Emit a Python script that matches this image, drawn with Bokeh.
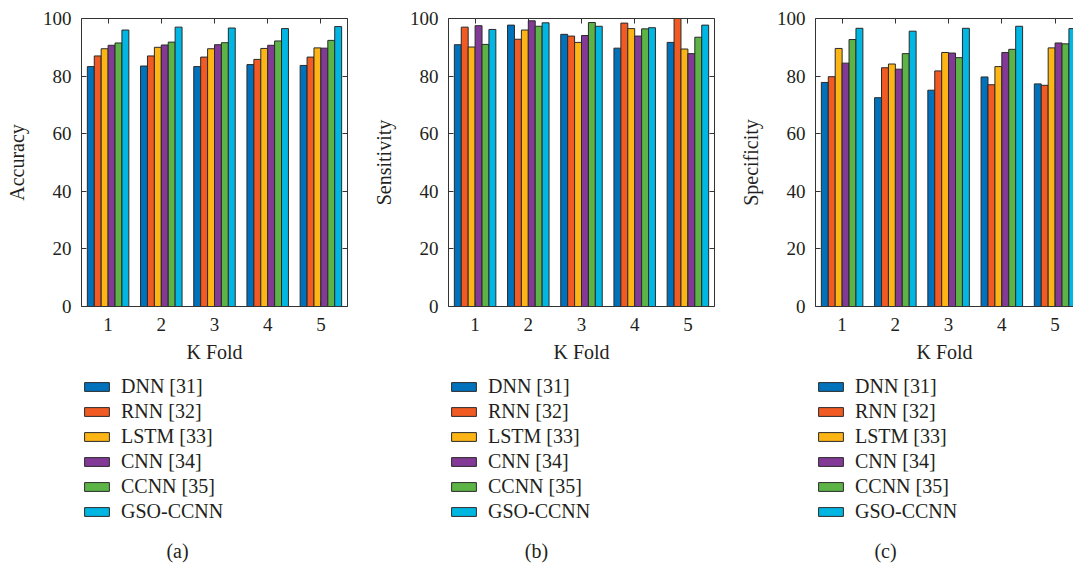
from bokeh.plotting import figure
from bokeh.models import (ColumnDataSource, FixedTicker, LinearAxis, Range1d,
                          Legend, LegendItem, Label)
from bokeh.transform import dodge
from bokeh.layouts import row, column
from bokeh.embed import file_html
from bokeh.resources import INLINE

# ---------------- data ----------------
folds = [1, 2, 3, 4, 5]
fold_labels = ["1", "2", "3", "4", "5"]
models = ["DNN [31]", "RNN [32]", "LSTM [33]", "CNN [34]", "CCNN [35]", "GSO-CCNN"]
y_ticks = [0, 20, 40, 60, 80, 100]

# rows: models (DNN, RNN, LSTM, CNN, CCNN, GSO-CCNN); columns: folds 1..5
accuracy = [
    [83.3, 83.5, 83.3, 84.0, 83.7],
    [87.0, 87.0, 86.6, 85.8, 86.6],
    [89.5, 90.0, 89.5, 89.6, 89.8],
    [90.7, 90.8, 90.9, 90.7, 89.7],
    [91.5, 91.8, 91.6, 92.2, 92.4],
    [96.0, 97.0, 96.7, 96.5, 97.2],
]
sensitivity = [
    [90.9, 97.7, 94.5, 89.7, 91.7],
    [97.0, 92.8, 93.9, 98.4, 100.0],
    [90.1, 96.0, 91.7, 96.5, 89.4],
    [97.5, 99.2, 94.1, 93.9, 87.8],
    [91.0, 97.3, 98.6, 96.4, 93.5],
    [96.2, 98.5, 97.3, 96.8, 97.7],
]
specificity = [
    [77.8, 72.5, 75.1, 79.7, 77.3],
    [79.8, 82.9, 81.8, 77.0, 76.8],
    [89.6, 84.2, 88.2, 83.3, 89.8],
    [84.5, 82.4, 88.0, 88.2, 91.5],
    [92.7, 87.8, 86.4, 89.3, 91.2],
    [96.6, 95.6, 96.6, 97.3, 96.5],
]

colors = ["#0072BC", "#F15A22", "#FDB515", "#823A96", "#5DB446", "#00B7E3"]

FONT = "Liberation Serif"
TXT = "#231F20"
LINE = "#333333"
EDGE = "#2A2A2A"
BAR_W = 0.13
CHART_H = 368
TOTAL_H = 567


def style_axis(ax, labels=True):
    ax.axis_line_color = LINE
    ax.axis_line_width = 1
    ax.major_tick_line_color = LINE
    ax.major_tick_in = 5
    ax.major_tick_out = 0
    ax.minor_tick_line_color = None
    ax.major_label_text_font = FONT
    ax.major_label_text_color = TXT
    ax.axis_label_text_font = FONT
    ax.axis_label_text_color = TXT
    ax.axis_label_text_font_style = "normal"
    ax.axis_label_text_font_size = "20px"
    if labels:
        ax.major_label_text_font_size = "19px"
    else:
        ax.major_label_text_font_size = "1px"
        ax.major_label_text_alpha = 0
        ax.major_label_standoff = 0


def make_chart(values, ylabel, border_left, border_right, frame_w, x_end,
               right_axis):
    p = figure(frame_width=frame_w, frame_height=288,
               x_range=Range1d(0.5, x_end), y_range=Range1d(0, 100),
               output_backend="svg", toolbar_location=None,
               min_border_left=border_left, min_border_right=border_right,
               min_border_top=18, min_border_bottom=CHART_H - 18 - 288,
               outline_line_color=None, background_fill_color="white",
               border_fill_color="white")
    p.xgrid.visible = False
    p.ygrid.visible = False

    data = {"fold": folds}
    for i in range(len(models)):
        data["m%d" % i] = values[i]
    src = ColumnDataSource(data)

    for i in range(len(models)):
        off = (i - (len(models) - 1) / 2) * BAR_W
        p.vbar(x=dodge("fold", off, range=p.x_range), top="m%d" % i,
               bottom=0, width=BAR_W, source=src,
               fill_color=colors[i], line_color=EDGE, line_width=1)

    xt = FixedTicker(ticks=folds)
    yt = FixedTicker(ticks=y_ticks)

    xa = p.xaxis[0]
    xa.ticker = xt
    xa.major_label_overrides = {f: l for f, l in zip(folds, fold_labels)}
    style_axis(xa)
    xa.major_label_standoff = 11
    xa.axis_label = "K Fold"
    xa.axis_label_standoff = 7

    ya = p.yaxis[0]
    ya.ticker = yt
    style_axis(ya)
    ya.major_label_standoff = 10
    ya.axis_label = ylabel
    ya.axis_label_standoff = 12

    top = LinearAxis(ticker=xt)
    style_axis(top, labels=False)
    p.add_layout(top, "above")
    if right_axis:
        ra = LinearAxis(ticker=yt)
        style_axis(ra, labels=False)
        p.add_layout(ra, "right")
    return p


def make_legend_fig(width, legend_x, caption, cap_x):
    h = TOTAL_H - CHART_H
    f = figure(width=width, height=h, x_range=Range1d(0, width),
               y_range=Range1d(h, 0), output_backend="svg",
               toolbar_location=None, x_axis_location=None,
               y_axis_location=None, min_border=0,
               outline_line_color=None, background_fill_color="white",
               border_fill_color="white")
    f.xgrid.visible = False
    f.ygrid.visible = False
    items = []
    for i, name in enumerate(models):
        # hidden renderer that only supplies the legend key style
        src = ColumnDataSource(dict(x=[-500.0], top=[-500.0], bottom=[-510.0]))
        r = f.vbar(x="x", top="top", bottom="bottom", width=1, source=src,
                   fill_color=colors[i], line_color=EDGE, line_width=1,
                   visible=False)
        items.append(LegendItem(label=name, renderers=[r]))
    leg = Legend(items=items, location=(legend_x, 44),
                 orientation="vertical", padding=0, margin=0, spacing=2,
                 glyph_width=31, glyph_height=11, label_standoff=9,
                 label_text_font=FONT, label_text_font_size="20px",
                 label_text_color=TXT, label_height=20,
                 inactive_fill_alpha=0, click_policy="none",
                 background_fill_alpha=0, border_line_color=None)
    f.add_layout(leg)
    f.add_layout(Label(x=cap_x, y=182, text=caption, text_font=FONT,
                       text_font_size="20px", text_color=TXT,
                       text_align="center", text_baseline="middle"))
    return f


pa = make_chart(accuracy, "Accuracy", 81, 19, 266, 5.5, True)
pb = make_chart(sensitivity, "Sensitivity", 82, 19, 266, 5.5, True)
pc = make_chart(specificity, "Specificity", 82, 0, 258, 5.346, False)

la = make_legend_fig(366, 81, "(a)", 177)
lb = make_legend_fig(367, 82, "(b)", 170)
lc = make_legend_fig(340, 82, "(c)", 152)

layout = column(row(pa, pb, pc), row(la, lb, lc))
open("out.html", "w").write(file_html(layout, INLINE))
